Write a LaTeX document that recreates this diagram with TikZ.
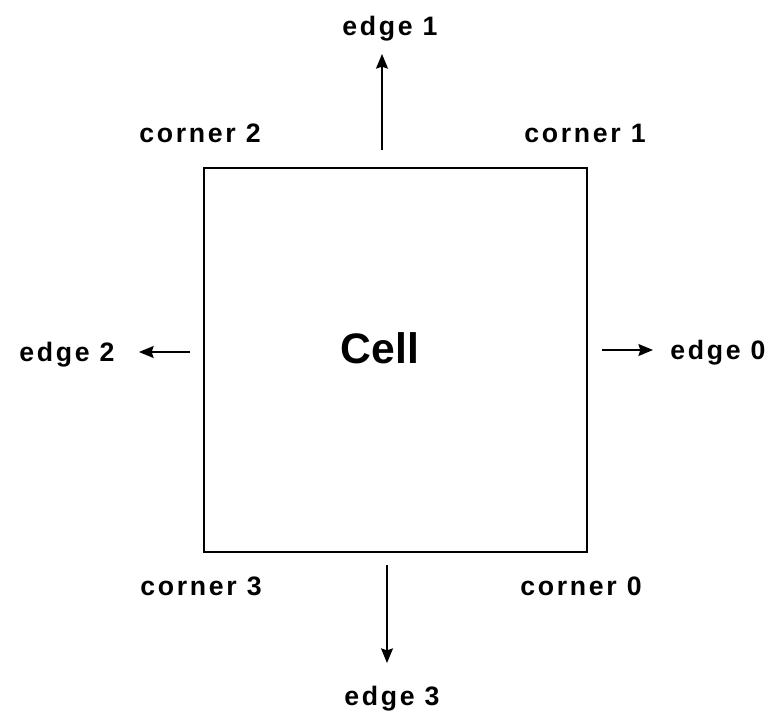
\documentclass[tikz,border=0pt]{standalone}
\usepackage{fontspec}
\newfontfamily\rotulo{Liberation Sans}[LetterSpace=10]
\newfontfamily\titulo{Liberation Sans}
\usetikzlibrary{
    positioning,
    arrows.meta
}
\tikzset{
    >={Stealth[length=11pt,width=9pt,inset=1.5pt]},
    etiqueta/.style={
        font=\rotulo\bfseries\fontsize{20}{24}\selectfont,
        inner sep=0pt,
        anchor=base
    },
    flecha/.style={->, line width=1.1pt}
}

\begin{document}
\begin{tikzpicture}[
    x=0.75pt,
    y=-0.75pt
]

    \useasboundingbox (0,0) rectangle (774,713);

    % Celda
    \node[draw, line width=1.2pt, minimum width=287.25pt, minimum height=288pt,
          inner sep=0pt] (celda) at (395.5,360) {};
    \node[anchor=base, inner sep=0pt,
          font=\titulo\bfseries\fontsize{32}{38}\selectfont] (nombre) at (380,363) {Cell};

    % Esquinas
    \node[etiqueta] (c2) at (200,143) {corner 2};
    \node[etiqueta] (c1) at (585,143) {corner 1};
    \node[etiqueta] (c3) at (201,595) {corner 3};
    \node[etiqueta] (c0) at (581,595) {corner 0};

    % Aristas
    \node[etiqueta] (e1) at (390,36)  {edge 1};
    \node[etiqueta] (e2) at (67,361)  {edge 2};
    \node[etiqueta] (e0) at (718,359) {edge 0};
    \node[etiqueta] (e3) at (392,705) {edge 3};

    % Salidas hacia cada arista
    \coordinate (s1) at (382,150);
    \coordinate (t1) at (382,54);
    \coordinate (s2) at (190,352);
    \coordinate (t2) at (139,352);
    \coordinate (s0) at (602,350);
    \coordinate (t0) at (653,350);
    \coordinate (s3) at (387,565);
    \coordinate (t3) at (387,663);

    \draw[flecha] (s1) -- (t1);
    \draw[flecha] (s2) -- (t2);
    \draw[flecha] (s0) -- (t0);
    \draw[flecha] (s3) -- (t3);

\end{tikzpicture}
\end{document}
